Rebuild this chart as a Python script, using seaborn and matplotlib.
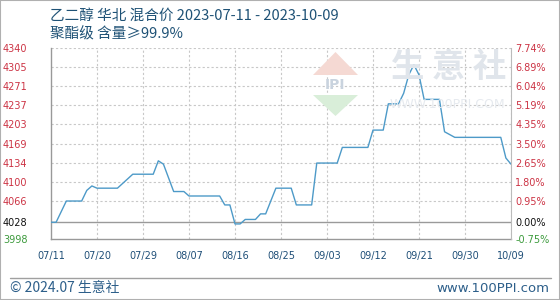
import matplotlib
matplotlib.use('Agg')
import matplotlib.pyplot as plt
import seaborn as sns
import pandas as pd
from matplotlib.patches import Polygon, Rectangle
from matplotlib.lines import Line2D

# ---- data ----
dates = ['2023-07-11', '2023-07-12', '2023-07-14', '2023-07-17', '2023-07-18', '2023-07-19',
         '2023-07-20', '2023-07-24', '2023-07-27', '2023-07-31', '2023-08-01', '2023-08-02',
         '2023-08-04', '2023-08-06', '2023-08-07', '2023-08-13', '2023-08-14', '2023-08-15',
         '2023-08-16', '2023-08-17', '2023-08-18', '2023-08-20', '2023-08-21', '2023-08-22',
         '2023-08-24', '2023-08-27', '2023-08-28', '2023-08-31', '2023-09-01', '2023-09-05',
         '2023-09-06', '2023-09-11', '2023-09-12', '2023-09-14', '2023-09-15', '2023-09-17',
         '2023-09-18', '2023-09-19', '2023-09-20', '2023-09-21', '2023-09-22', '2023-09-25',
         '2023-09-26', '2023-09-28', '2023-10-07', '2023-10-08', '2023-10-09']
prices = [4028, 4028, 4066, 4066, 4085, 4093,
          4089, 4089, 4114, 4114, 4138, 4132,
          4083, 4083, 4075, 4075, 4059, 4059,
          4025, 4025, 4033, 4033, 4043, 4043,
          4089, 4089, 4059, 4059, 4134, 4134,
          4162, 4162, 4193, 4193, 4240, 4240,
          4259, 4292, 4310, 4292, 4248, 4248,
          4190, 4180, 4180, 4143, 4132]

base_price = 4028
y_tick_values = [4340, 4305.8, 4271.6, 4237.4, 4203.2, 4169.0, 4134.8, 4100.6, 4066.4, 4028, 3998]
y_tick_labels = ['4340', '4305', '4271', '4237', '4203', '4169', '4134', '4100', '4066', '4028', '3998']
pct_tick_labels = ['7.74%', '6.89%', '6.04%', '5.19%', '4.35%', '3.50%', '2.65%', '1.80%',
                   '0.95%', '0.00%', '-0.75%']
x_tick_dates = ['2023-07-11', '2023-07-20', '2023-07-29', '2023-08-07', '2023-08-16', '2023-08-25',
                '2023-09-03', '2023-09-12', '2023-09-21', '2023-09-30', '2023-10-09']
x_tick_labels = ['07/11', '07/20', '07/29', '08/07', '08/16', '08/25', '09/03', '09/12',
                 '09/21', '09/30', '10/09']

title1 = '乙二醇 华北 混合价 2023-07-11 - 2023-10-09'
title2 = '聚酯级 含量≥99.9%'
footer_left = '© 2024.07 生意社'
footer_right = 'www.100PPI.com'

# ---- style ----
sns.set_theme(style='white')
plt.rcParams['font.family'] = ['Noto Sans CJK SC', 'DejaVu Sans']

W, H = 560, 300
fig = plt.figure(figsize=(W / 100, H / 100), dpi=100)
fig.patch.set_facecolor('white')

def fx(px):
    return px / W

def fy(py):
    return 1 - py / H

# watermark logo + text (behind plot)
fig.patches.append(Polygon([(fx(313), fy(75)), (fx(358), fy(75)), (fx(335.5), fy(52))],
                           closed=True, transform=fig.transFigure, facecolor='#f5d9d3',
                           edgecolor='none', zorder=0))
fig.patches.append(Polygon([(fx(313), fy(95)), (fx(358), fy(95)), (fx(335.5), fy(116))],
                           closed=True, transform=fig.transFigure, facecolor='#d9eed9',
                           edgecolor='none', zorder=0))
fig.text(fx(335.5), fy(85), 'IPI', ha='center', va='center', fontsize=10, fontweight='bold',
         color='#c9d3de', family=['DejaVu Sans'], zorder=0)
fig.text(fx(449), fy(68), '生 意 社', ha='center', va='center', fontsize=24,
         color='#e0e5eb', fontweight='bold', zorder=0)
fig.text(fx(447), fy(105), 'WWW.100PPI.COM', ha='center', va='center', fontsize=9,
         color='#e6eaef', family=['DejaVu Sans'], zorder=0)

ax = fig.add_axes([fx(51), fy(239), (511 - 51) / W, (239 - 48) / H])
ax.set_facecolor('none')

df = pd.DataFrame({'date': pd.to_datetime(dates), 'price': prices})
sns.lineplot(data=df, x='date', y='price', ax=ax, color='#4d9ac8', linewidth=1.0, zorder=5)

xmin, xmax = pd.Timestamp(dates[0]), pd.Timestamp(dates[-1])
ax.set_xlim(xmin, xmax)
ax.set_ylim(min(y_tick_values), max(y_tick_values))
ax.set_xlabel('')
ax.set_ylabel('')

# grid lines
for v in y_tick_values:
    if v == base_price:
        ax.axhline(v, color='#9a9a9a', linewidth=1.0, zorder=3)
    elif v > base_price:
        ax.axhline(v, color='#c8c8c8', linewidth=0.8, linestyle=(0, (2, 2)), zorder=2)
for d in x_tick_dates[1:]:
    ax.axvline(pd.Timestamp(d), color='#c8c8c8', linewidth=0.8, linestyle=(0, (2, 2)), zorder=2)

# x ticks
ax.set_xticks(pd.to_datetime(x_tick_dates))
ax.set_xticklabels(x_tick_labels, family=['DejaVu Sans'], fontsize=7, color='#1f4f78')
ax.tick_params(axis='x', length=0, pad=9)

# left y ticks
ax.set_yticks(y_tick_values)
ax.set_yticklabels(y_tick_labels, family=['DejaVu Sans'], fontsize=7)
ax.tick_params(axis='y', length=0, pad=17)

def colour_for(v):
    if v == base_price:
        return '#111111'
    if v < base_price:
        return '#3c9a3c'
    return '#cc3344'

for lbl, v in zip(ax.get_yticklabels(), y_tick_values):
    lbl.set_color(colour_for(v))

# right y ticks (percent)
ax2 = ax.twinx()
ax2.set_ylim(ax.get_ylim())
ax2.set_yticks(y_tick_values)
ax2.set_yticklabels(pct_tick_labels, family=['DejaVu Sans'], fontsize=7)
ax2.tick_params(axis='y', length=0, pad=3)
for lbl, v in zip(ax2.get_yticklabels(), y_tick_values):
    lbl.set_color(colour_for(v))

for a in (ax, ax2):
    a.grid(False)
    for s in a.spines.values():
        s.set_visible(False)
ax.spines['left'].set_visible(True)
ax.spines['left'].set_color('#999999')
ax.spines['left'].set_linewidth(1.0)
ax.spines['bottom'].set_visible(True)
ax.spines['bottom'].set_color('#999999')
ax.spines['bottom'].set_linewidth(1.0)
ax2.spines['right'].set_visible(True)
ax2.spines['right'].set_color('#bbbbbb')
ax2.spines['right'].set_linewidth(0.8)

# titles
fig.text(fx(50), fy(16), title1, ha='left', va='center', fontsize=10.5, color='#1f5276')
fig.text(fx(50), fy(34), title2, ha='left', va='center', fontsize=10.5, color='#1f5276')

# footer
fig.lines.append(Line2D([fx(10), fx(551)], [fy(277.5), fy(277.5)], transform=fig.transFigure,
                        color='#a0a0a0', linewidth=1.0))
fig.text(fx(10), fy(288), footer_left, ha='left', va='center', fontsize=10, color='#2d5f8a')
fig.text(fx(549), fy(288), footer_right, ha='right', va='center', fontsize=9.5, color='#2d5f8a',
         family=['DejaVu Sans'])

# outer border
fig.patches.append(Rectangle((0, 0), 1, 1, transform=fig.transFigure, fill=False,
                             edgecolor='#b0b0b0', linewidth=1.5))

fig.savefig('out.png', dpi=100)
